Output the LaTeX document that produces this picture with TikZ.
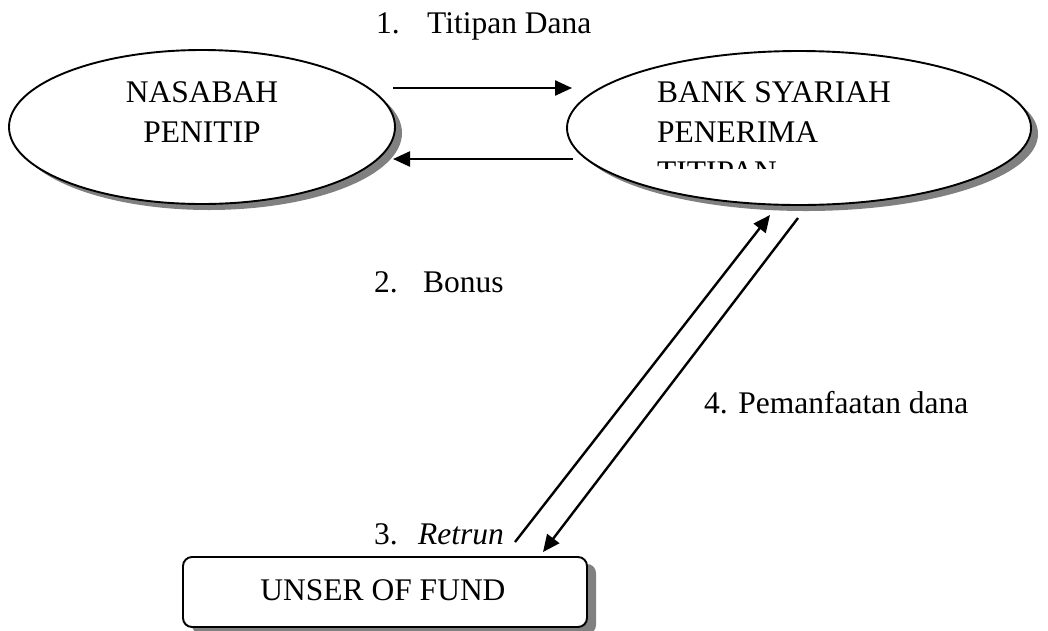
\documentclass[tikz,border=0pt]{standalone}
\usepackage{fontspec}
\setmainfont{Liberation Serif}
\usetikzlibrary{shadows,arrows.meta,shapes.geometric}
\definecolor{shadowgray}{HTML}{808080}
\begin{document}
\begin{tikzpicture}[x=1pt,y=-1pt,
  oval/.style={draw,line width=1.9pt,ellipse,fill=white,inner sep=0pt,
    drop shadow={shadow xshift=7pt,shadow yshift=-6pt,fill=shadowgray,opacity=1}},
  boxnode/.style={draw,line width=1.9pt,rounded corners=9pt,fill=white,inner sep=0pt,
    drop shadow={shadow xshift=9pt,shadow yshift=-7pt,fill=shadowgray,opacity=1}},
  arr/.style={line width=2.4pt,-{Triangle[length=17pt,width=15pt]}},
  txt/.style={font=\fontsize{31.5}{38}\selectfont,inner sep=0pt},
  lbl/.style={txt,anchor=base west}
]
\useasboundingbox (0,0) rectangle (1048,630);

% shapes
\node[oval,minimum width=386pt,minimum height=154pt] (nas) at (202,127) {};
\node[oval,minimum width=464pt,minimum height=154pt] (bank) at (799,128) {};
\node[boxnode,minimum width=404pt,minimum height=70pt] (user) at (385,592) {};

% texts in shapes
\node[txt,anchor=base] (nas1) at (202,102) {NASABAH};
\node[txt,anchor=base] (nas2) at (202,142) {PENITIP};
\node[lbl] (bank1) at (657,102) {BANK SYARIAH};
\node[lbl] (bank2) at (657,142) {PENERIMA};
\begin{scope}
  \clip (640,140) rectangle (1000,168);
  \node[lbl] (bank3) at (657,182) {TITIPAN};
\end{scope}
\node[txt,anchor=base] (usertxt) at (383,600) {UNSER OF FUND};

% connector end points
\coordinate (a1s) at (393,88);  \coordinate (a1e) at (572,88);
\coordinate (a2s) at (573,159); \coordinate (a2e) at (393,159);
\coordinate (a3s) at (515,542); \coordinate (a3e) at (770,215);
\coordinate (a4s) at (798,218); \coordinate (a4e) at (543,552);

\draw[arr] (a1s) -- (a1e);
\draw[arr] (a2s) -- (a2e);
\draw[arr] (a3s) -- (a3e);
\draw[arr] (a4s) -- (a4e);

% labels
\node[lbl] (l1n) at (376,33) {1.};
\node[lbl] (l1t) at (427,33) {Titipan Dana};
\node[lbl] (l2n) at (374,292) {2.};
\node[lbl] (l2t) at (423,292) {Bonus};
\node[lbl] (l3n) at (374,544) {3.};
\node[lbl] (l3t) at (418,544) {\itshape Retrun};
\node[lbl] (l4) at (704,413) {4. Pemanfaatan dana};
\end{tikzpicture}
\end{document}
